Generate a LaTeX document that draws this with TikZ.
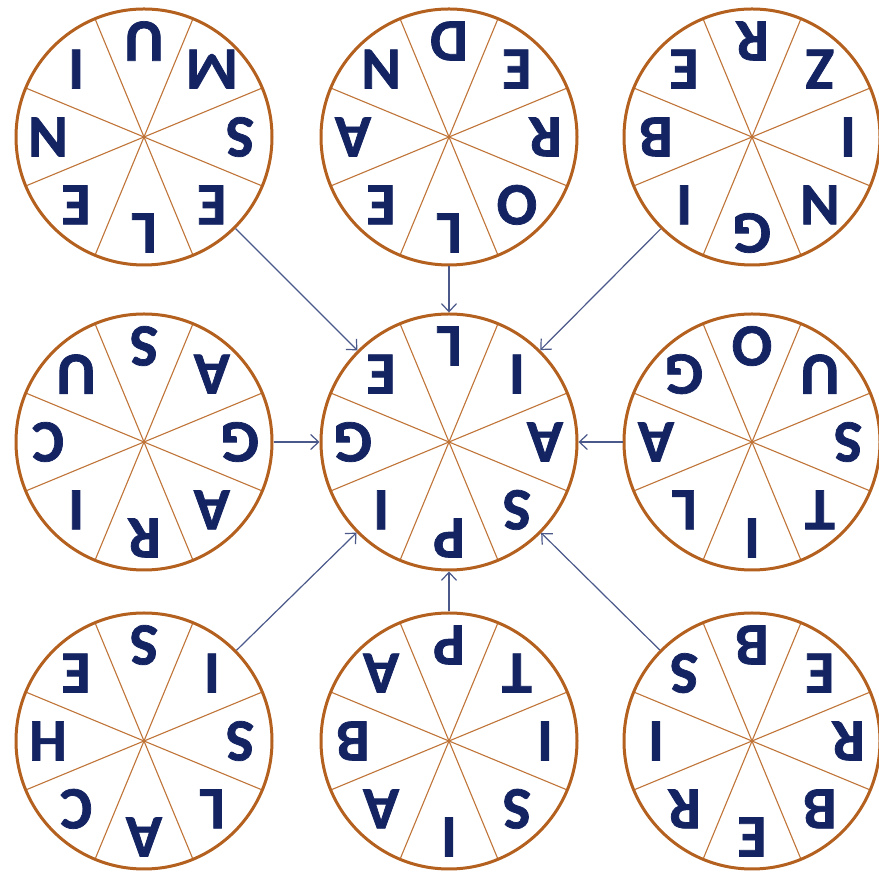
\documentclass[tikz,border=0pt]{standalone}
\usepackage{fontspec}
\setmainfont{Carlito}[BoldFeatures={FakeBold=1.2}]
\usetikzlibrary{arrows.meta}
\definecolor{ring}{RGB}{180,96,30}
\definecolor{spoke}{RGB}{192,116,56}
\definecolor{letter}{RGB}{20,36,98}
\definecolor{arrowc}{RGB}{74,88,138}
\tikzset{
 wheel/.style={circle, draw=ring, line width=3pt, minimum size=256pt, inner sep=0pt},
 ltr/.style={text=letter, font=\fontsize{60}{60}\selectfont\bfseries, rotate=180, inner sep=0pt},
 arr/.style={draw=arrowc, line width=1.2pt, -{Straight Barb[length=8pt,width=15pt,line width=1.2pt]}},
 spk/.style={draw=spoke, line width=1.1pt}
}
\newcommand\mywheel[4]{%
  \foreach \a in {22.5,67.5,...,337.5} \draw[spk] (#2,#3) -- ++(\a:128pt);
  \foreach \L [count=\i from 0, evaluate=\i as \ang using \i*45] in {#4}
    \path (#2,#3) ++(\ang:96pt) node[ltr] (#1-\i) {\L};
  \node[wheel] (#1) at (#2,#3) {};
}
\begin{document}
\begin{tikzpicture}[x=1pt,y=1pt]
\fill[white] (0,0) rectangle (879,873);
\useasboundingbox (0,0) rectangle (879,873);
\mywheel{TL}{144}{736}{S,M,U,I,N,E,L,E}
\mywheel{TM}{449}{736}{R,E,D,N,A,E,L,O}
\mywheel{TR}{752}{736}{I,Z,R,E,B,I,G,N}
\mywheel{ML}{144}{431}{G,A,S,U,C,I,R,A}
\mywheel{MM}{449}{431}{A,I,L,E,G,I,P,S}
\mywheel{MR}{752}{431}{S,U,O,G,A,L,I,T}
\mywheel{BL}{144}{132}{S,I,S,E,H,C,A,L}
\mywheel{BM}{449}{132}{I,T,P,A,B,A,I,S}
\mywheel{BR}{752}{132}{R,E,B,S,I,R,E,B}
\foreach \n in {TL,TM,TR,ML,MR,BL,BM,BR}
  \draw[arr] (\n) -- (MM);
\end{tikzpicture}
\end{document}
